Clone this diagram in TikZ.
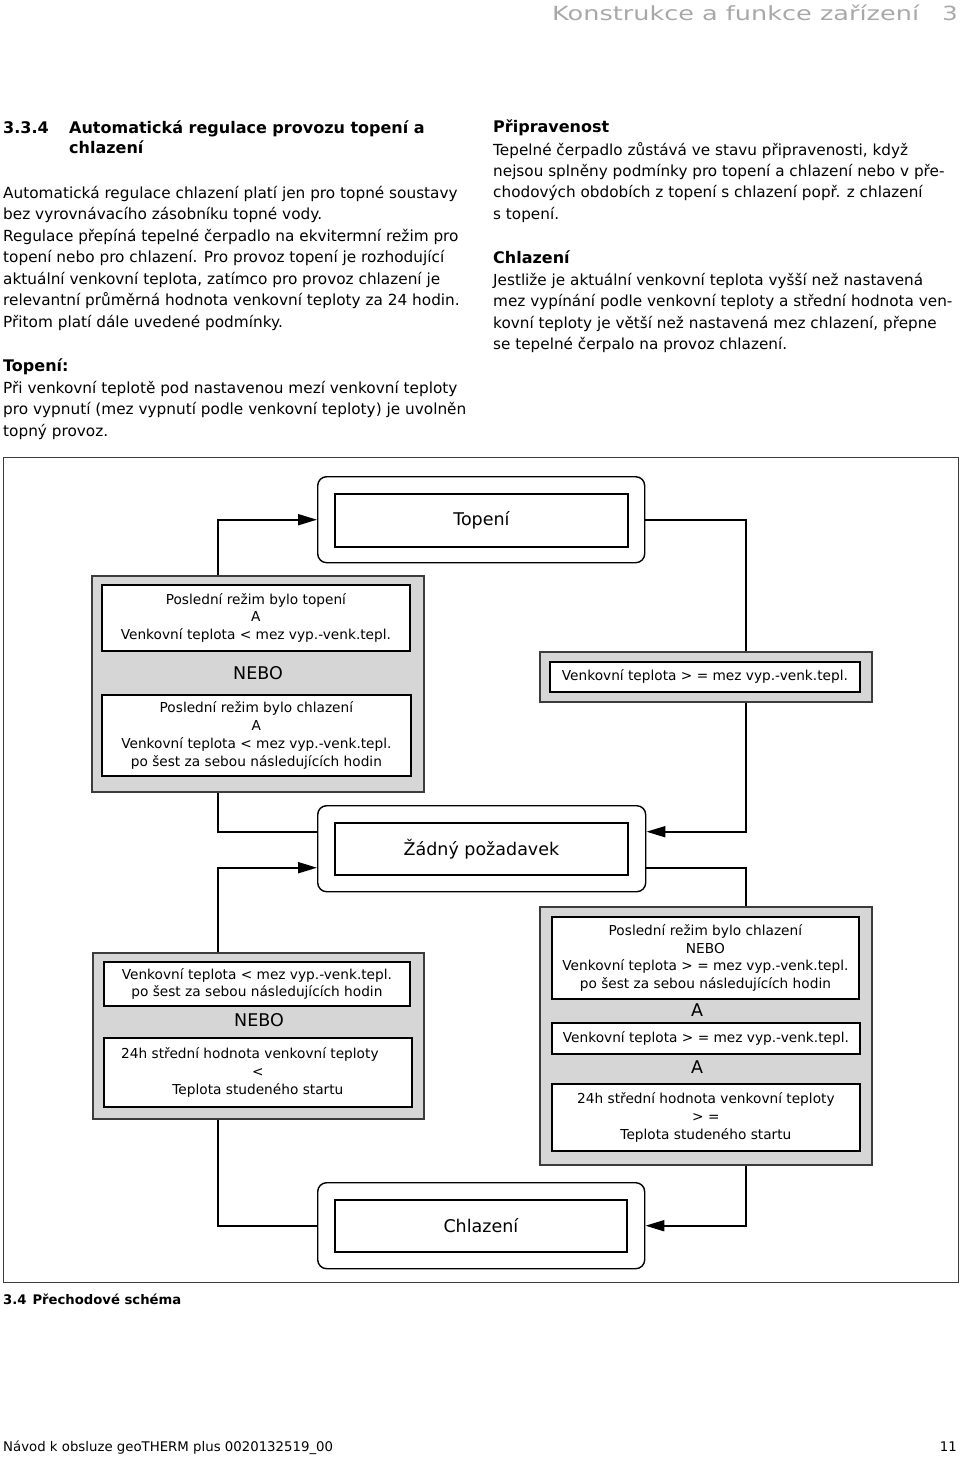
\documentclass[tikz,border=0pt]{standalone}
\usepackage{fontspec}
\setmainfont{DejaVu Sans}
\usetikzlibrary{arrows.meta}
\definecolor{boxgray}{HTML}{D6D6D6}
\definecolor{hdrgray}{HTML}{A8A8A8}
\definecolor{edgegray}{HTML}{3C3C3C}
\begin{document}
\begin{tikzpicture}[x=1pt,y=-1pt,
  txt/.style={inner sep=0pt, anchor=base west},
  outerbox/.style={draw, line width=1.4pt, rounded corners=9pt, anchor=north west, inner sep=0pt},
  innerbox/.style={draw, line width=1.8pt, fill=white, anchor=north west, inner sep=0pt, align=center,
     font=\fontsize{13.7}{17.8}\selectfont},
  graybox/.style={draw=edgegray, line width=1.8pt, fill=boxgray, anchor=north west, inner sep=0pt},
  bigtext/.style={font=\fontsize{17.5}{21}\selectfont},
  ortext/.style={font=\fontsize{17.5}{21}\selectfont, inner sep=0pt},
  conn/.style={line width=1.9pt},
  arr/.style={-{Triangle[length=19pt,width=11pt]}}
]
\useasboundingbox (0,0) rectangle (960,1460);

% ---------- page text ----------
\node[inner sep=0pt, anchor=base west, text=hdrgray] (hdr) at (552,20)
  {\scalebox{1.31}[1]{\fontsize{19.5}{24}\selectfont Konstrukce a funkce zařízení}};
\node[inner sep=0pt, anchor=base east, text=hdrgray] (hdrnum) at (958,20)
  {\scalebox{1.24}[1]{\fontsize{19.5}{24}\selectfont 3}};

\node[txt, font=\bfseries\fontsize{16}{20.5}\selectfont] (secnum) at (3,133) {3.3.4};
\node[txt] (sectitle) at (69,133)
  {\parbox[t]{420pt}{\bfseries\fontsize{16}{20.5}\selectfont Automatická regulace provozu topení a\\chlazení}};

\node[txt] (leftpar) at (3,198)
  {\parbox[t]{480pt}{\fontsize{15.3}{21.55}\selectfont
  Automatická regulace chlazení platí jen pro topné soustavy\\
  bez vyrovnávacího zásobníku topné vody.\\
  Regulace přepíná tepelné čerpadlo na ekvitermní režim pro\\
  topení nebo pro chlazení. Pro provoz topení je rozhodující\\
  aktuální venkovní teplota, zatímco pro provoz chlazení je\\
  relevantní průměrná hodnota venkovní teploty za 24 hodin.\\
  Přitom platí dále uvedené podmínky.}};

\node[txt, font=\bfseries\fontsize{16}{21.6}\selectfont] (toptitle) at (3,371) {Topení:};
\node[txt] (toppar) at (3,393)
  {\parbox[t]{480pt}{\fontsize{15.3}{21.6}\selectfont
  Při venkovní teplotě pod nastavenou mezí venkovní teploty\\
  pro vypnutí (mez vypnutí podle venkovní teploty) je uvolněn\\
  topný provoz.}};

\node[txt, font=\bfseries\fontsize{16}{21.6}\selectfont] (priptitle) at (493,132) {Připravenost};
\node[txt] (rightpar1) at (493,155)
  {\parbox[t]{470pt}{\fontsize{15.25}{21.4}\selectfont
  Tepelné čerpadlo zůstává ve stavu připravenosti, když\\
  nejsou splněny podmínky pro topení a chlazení nebo v pře-\\
  chodových obdobích z topení s chlazení popř. z chlazení\\
  s topení.}};

\node[txt, font=\bfseries\fontsize{16}{21.6}\selectfont] (chltitle) at (493,263) {Chlazení};
\node[txt] (rightpar2) at (493,285)
  {\parbox[t]{470pt}{\fontsize{15.25}{21.6}\selectfont
  Jestliže je aktuální venkovní teplota vyšší než nastavená\\
  mez vypínání podle venkovní teploty a střední hodnota ven-\\
  kovní teploty je větší než nastavená mez chlazení, přepne\\
  se tepelné čerpalo na provoz chlazení.}};

% ---------- diagram ----------
\node[draw=edgegray, line width=1.4pt, anchor=north west, inner sep=0pt,
      minimum width=955pt, minimum height=825pt] (frame) at (3,457) {};

% state boxes
\node[outerbox, minimum width=327pt, minimum height=86pt] (topO) at (317,476) {};
\node[innerbox, bigtext, minimum width=293pt, minimum height=53pt] (topI) at (334,493) {Topení};

\node[outerbox, minimum width=328pt, minimum height=86pt] (zO) at (317,805) {};
\node[innerbox, bigtext, minimum width=293pt, minimum height=52pt] (zI) at (334,822) {Žádný požadavek};

\node[outerbox, minimum width=327pt, minimum height=86pt] (cO) at (317,1182) {};
\node[innerbox, bigtext, minimum width=292pt, minimum height=52pt] (cI) at (334,1199) {Chlazení};

% condition group: left upper
\node[graybox, minimum width=332pt, minimum height=216pt] (gL1) at (91,575) {};
\node[innerbox, minimum width=308pt, minimum height=66pt] (gL1a) at (101,584)
  {Poslední režim bylo topení\\A\\Venkovní teplota < mez vyp.-venk.tepl.};
\node[ortext] (or1) at (258,673) {NEBO};
\node[innerbox, minimum width=309pt, minimum height=81pt] (gL1b) at (101,694)
  {Poslední režim bylo chlazení\\A\\Venkovní teplota < mez vyp.-venk.tepl.\\po šest za sebou následujících hodin};

% condition group: right upper
\node[graybox, minimum width=332pt, minimum height=50pt] (gR1) at (539,651) {};
\node[innerbox, minimum width=310pt, minimum height=30pt] (gR1a) at (549,661)
  {Venkovní teplota > = mez vyp.-venk.tepl.};

% condition group: left lower
\node[graybox, minimum width=331pt, minimum height=166pt] (gL2) at (92,952) {};
\node[innerbox, minimum width=306pt, minimum height=44pt] (gL2a) at (103,961)
  {Venkovní teplota < mez vyp.-venk.tepl.\\po šest za sebou následujících hodin};
\node[ortext] (or2) at (259,1020) {NEBO};
\node[innerbox, minimum width=308pt, minimum height=69pt] (gL2b) at (103,1037)
  {24h střední hodnota venkovní teploty\hspace*{16pt}\\<\\Teplota studeného startu};

% condition group: right lower
\node[graybox, minimum width=332pt, minimum height=258pt] (gR2) at (539,906) {};
\node[innerbox, minimum width=307pt, minimum height=82pt] (gR2a) at (551,916)
  {Poslední režim bylo chlazení\\NEBO\\Venkovní teplota > = mez vyp.-venk.tepl.\\po šest za sebou následujících hodin};
\node[ortext] (and1) at (697,1010) {A};
\node[innerbox, minimum width=308pt, minimum height=31pt] (gR2b) at (551,1022)
  {Venkovní teplota > = mez vyp.-venk.tepl.};
\node[ortext] (and2) at (697,1067) {A};
\node[innerbox, minimum width=308pt, minimum height=67pt] (gR2c) at (551,1083)
  {24h střední hodnota venkovní teploty\\> =\\Teplota studeného startu};

% connector guide columns
\coordinate (colL) at (218,0);
\coordinate (colR) at (746,0);
\coordinate (zInR) at ([yshift=17pt]zO.east);
\coordinate (zOutL) at ([yshift=17pt]zO.west);
\coordinate (zInL) at ([yshift=-19pt]zO.west);
\coordinate (zOutR) at ([yshift=-19pt]zO.east);

% connectors
\draw[conn, arr] (gL1.north -| colL) |- (topO.west);
\draw[conn] (topO.east) -| (gR1.north -| colR);
\draw[conn, arr] (gR1.south -| colR) |- (zInR);
\draw[conn] (zOutL) -| (gL1.south -| colL);
\draw[conn, arr] (gL2.north -| colL) |- (zInL);
\draw[conn] (zOutR) -| (gR2.north -| colR);
\draw[conn] (gL2.south -| colL) |- (cO.west);
\draw[conn, arr] (gR2.south -| colR) |- (cO.east);

% caption and footer
\node[txt, font=\bfseries\fontsize{13.2}{17}\selectfont] (caption) at (3,1304) {3.4\hspace{0.45em}Přechodové schéma};
\node[txt, font=\fontsize{13.3}{16}\selectfont] (footer) at (3,1451)
  {Návod k obsluze geoTHERM plus 0020132519\_00};
\node[inner sep=0pt, anchor=base east, font=\fontsize{13.3}{16}\selectfont] (pageno) at (957,1451) {11};
\end{tikzpicture}
\end{document}
